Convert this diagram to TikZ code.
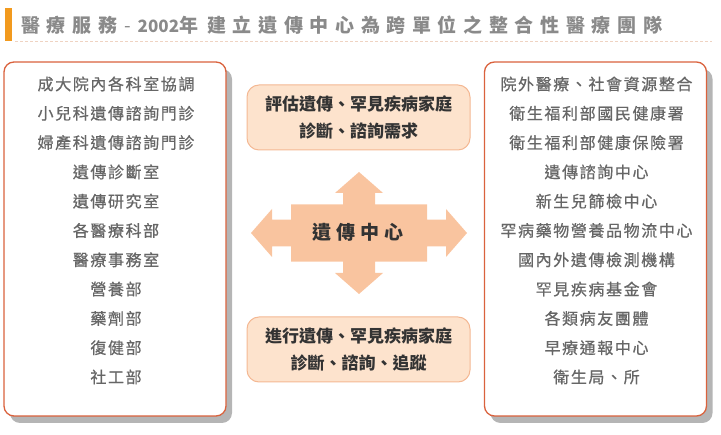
\documentclass[tikz,border=0pt]{standalone}
\usepackage{fontspec}
\setmainfont{Noto Sans CJK TC}
\usetikzlibrary{shadows}
\definecolor{titlegray}{HTML}{8A8A8A}
\definecolor{listgray}{HTML}{666666}
\definecolor{darktext}{HTML}{333333}
\definecolor{barorange}{HTML}{F29A1E}
\definecolor{dotpeach}{HTML}{EFD3C2}
\definecolor{boxred}{HTML}{DA623D}
\definecolor{shadowgray}{HTML}{B5B5B5}
\definecolor{notefill}{HTML}{FDE3CD}
\definecolor{noteborder}{HTML}{F4B893}
\definecolor{arrowpeach}{HTML}{F9C49F}
\tikzset{
  listbox/.style = {draw=boxred, line width=1.3pt, fill=white, rounded corners=10pt,
    minimum width=222pt, minimum height=354pt,
    drop shadow={shadow xshift=6pt, shadow yshift=-7pt, fill=shadowgray, opacity=1}},
  listitem/.style = {text=listgray, inner sep=0,
    font=\fontsize{16}{16}\selectfont\addfontfeatures{LetterSpace=10, FakeBold=0.6}},
  notebox/.style = {draw=noteborder, line width=1pt, fill=notefill, rounded corners=12pt,
    minimum width=223pt, minimum height=65pt, align=center, text=darktext,
    font=\fontsize{17}{27.3}\selectfont\bfseries},
  hubtext/.style = {text=darktext, inner sep=0,
    font=\fontsize{19}{19}\selectfont\bfseries\addfontfeatures{LetterSpace=28}}
}

\begin{document}
\begin{tikzpicture}[x=1pt, y=-1pt]
  \useasboundingbox (0, 0) rectangle (721, 435);

  % title
  \fill [barorange] (5, 8.5) rectangle (12, 41.5);
  \node [anchor=west, inner sep=0, text=titlegray, font=\fontsize{19}{19}\selectfont\bfseries] (title) at (21, 25)
    {{\addfontfeatures{LetterSpace=35}醫療服務}\hspace{7pt}{\mdseries -}\hspace{7pt}{\fontsize{17}{17}\selectfont 2002}年\hspace{9pt}{\addfontfeatures{LetterSpace=35}建立遺傳中心為跨單位之整合性醫療團隊}};
  \draw [dotpeach, line width=1pt, dash pattern=on 2.5pt off 2.5pt] (15, 42) -- (712, 42);

  % side boxes
  \node [listbox] (inside) at (115, 239) {};
  \node [listbox] (outside) at (595.5, 239) {};

  \foreach \txt [count=\i] in {成大院內各科室協調, 小兒科遺傳諮詢門診, 婦產科遺傳諮詢門診, 遺傳診斷室, 遺傳研究室,
      各醫療科部, 醫療事務室, 營養部, 藥劑部, 復健部, 社工部}
    \node [listitem] (in\i) at (116, {84 + 29.3*(\i - 1)}) {\txt};

  \foreach \txt [count=\i] in {院外醫療、社會資源整合, 衛生福利部國民健康署, 衛生福利部健康保險署, 遺傳諮詢中心,
      新生兒篩檢中心, 罕病藥物營養品物流中心, 國內外遺傳檢測機構, 罕見疾病基金會, 各類病友團體, 早療通報中心, 衛生局、所}
    \node [listitem] (out\i) at (596.5, {84 + 29.3*(\i - 1)}) {\txt};

  % center
  \node [notebox] (assess) at (358.5, 117.5) {評估遺傳、罕見疾病家庭\\診斷、諮詢需求};
  \node [notebox] (follow) at (358.5, 349.5) {進行遺傳、罕見疾病家庭\\診斷、諮詢、追蹤};

  \fill [arrowpeach, shift={(359, 233)}] (0, -61) -- (24, -40) -- (16, -40) -- (16, -28.7) -- (68, -28.7) -- (68, -13.3)
    -- (87, -13.3) -- (87, -24) -- (108, 0) -- (87, 24) -- (87, 13.3) -- (68, 13.3) -- (68, 28.7) -- (16, 28.7)
    -- (16, 40) -- (24, 40) -- (0, 61) -- (-24, 40) -- (-16, 40) -- (-16, 28.7) -- (-68, 28.7) -- (-68, 13.3)
    -- (-87, 13.3) -- (-87, 24) -- (-108, 0) -- (-87, -24) -- (-87, -13.3) -- (-68, -13.3) -- (-68, -28.7)
    -- (-16, -28.7) -- (-16, -40) -- (-24, -40) -- cycle;
  \node [hubtext] (hub) at (358, 232) {遺傳中心};
\end{tikzpicture}
\end{document}
